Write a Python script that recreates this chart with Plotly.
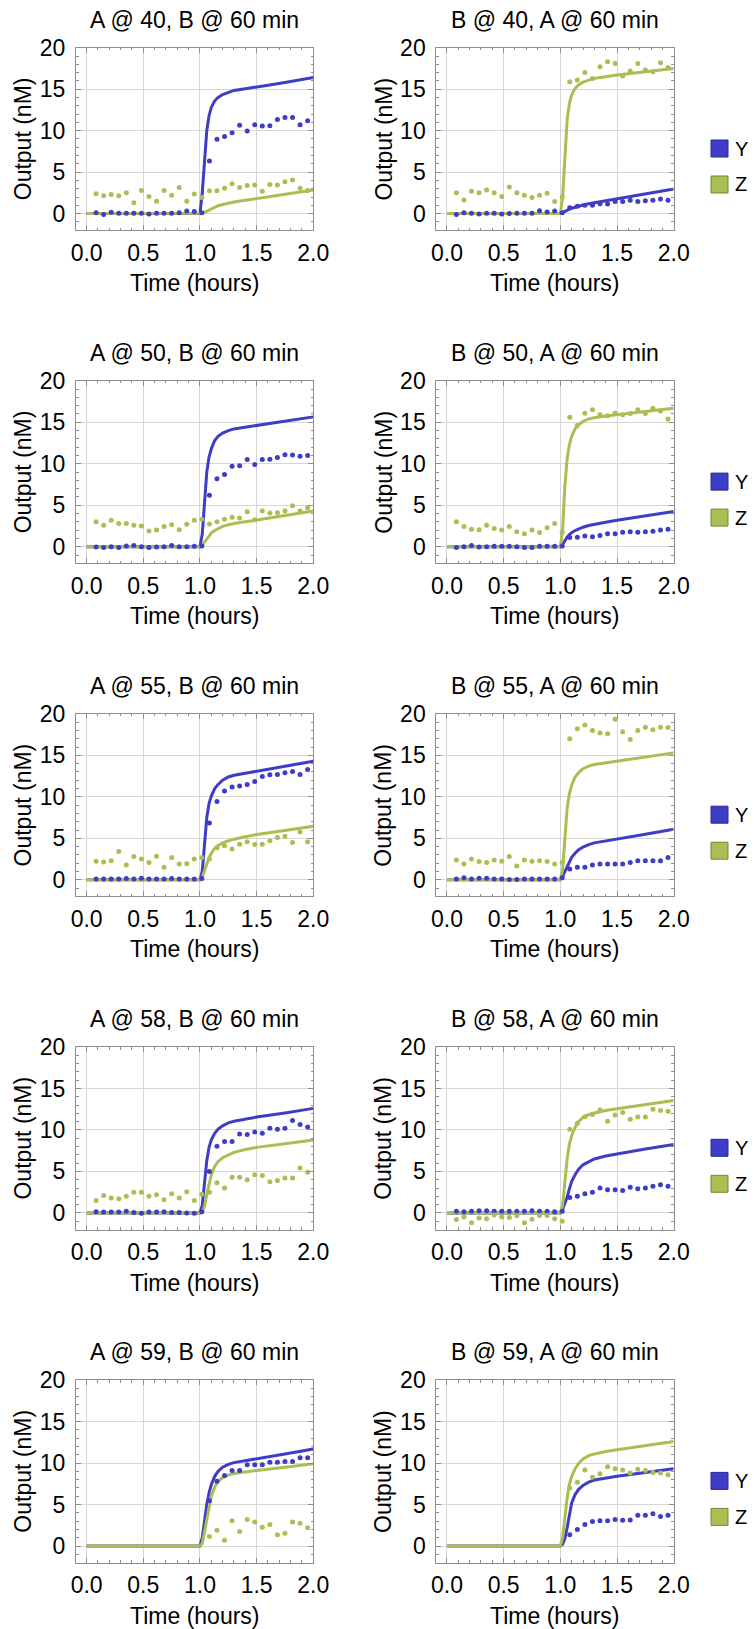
import plotly.graph_objects as go

W, H = 754, 1629
FONT = "Liberation Sans, Arial, sans-serif"
FS = 23
LEG_FS = 20
BLUE = "#3f3cc8"
GREEN = "#a8bf52"
BLUE_EDGE = "#2a2890"
GREEN_EDGE = "#76873a"

# ---------------- data ----------------
TIME_MIN = [5, 9, 13, 17, 21, 25, 29, 33, 37, 41, 45, 49, 53, 57, 61,
            65, 69, 73, 77, 81, 85, 89, 93, 97, 101, 105, 109, 113, 117, 121]
FIT_T = [0.0, 1.0, 1.02, 1.04, 1.06, 1.08, 1.10, 1.13, 1.16, 1.20,
         1.25, 1.30, 1.40, 1.50, 1.75, 2.0]

ROW_LABELS = ["40", "50", "55", "58", "59"]
SERIES = ["Y", "Z"]
X_TICKS = [0, 0.5, 1.0, 1.5, 2.0]
X_TICKTEXT = ["0.0", "0.5", "1.0", "1.5", "2.0"]
Y_TICKS = [0, 5, 10, 15, 20]
Y_TICKTEXT = ["0", "5", "10", "15", "20"]

# A first (left column)
y_A40 = [0.1, -0.1, 0.15, 0.05, 0.05, 0.05, 0.05, -0.05, 0.05, 0.05, 0.05, 0.1, 0.3, 0.25, 0.1,
         6.35, 8.95, 9.3, 9.75, 10.65, 9.95, 10.7, 10.55, 10.6, 11.35, 11.6, 11.6, 10.7, 11.2, 12.0]
z_A40 = [2.4, 2.15, 2.3, 2.15, 2.5, 1.3, 2.8, 2.05, 1.5, 2.8, 2.2, 3.15, 1.5, 2.35, 1.95,
         2.75, 2.75, 3.05, 3.6, 3.15, 3.4, 3.45, 2.7, 3.5, 3.45, 3.85, 4.05, 3.05, 2.8, 3.9]
yfit_A40 = [0, 0, 2.5, 6.5, 10.0, 11.8, 12.8, 13.6, 14.0, 14.35, 14.6, 14.85, 15.05, 15.25, 15.8, 16.4]
zfit_A40 = [0, 0, 0.05, 0.15, 0.3, 0.45, 0.6, 0.8, 0.95, 1.1, 1.25, 1.4, 1.6, 1.8, 2.3, 2.85]

y_A50 = [-0.05, -0.1, 0, -0.1, 0.1, 0.15, 0, -0.1, -0.05, 0, 0.15, 0, 0, 0.05, 0.1,
         6.2, 8.2, 8.7, 9.7, 9.75, 10.5, 9.9, 10.5, 10.55, 10.75, 11.1, 11.05, 10.9, 11.0, 11.35]
z_A50 = [3.0, 2.6, 3.2, 2.8, 2.8, 2.6, 2.5, 1.9, 2.0, 2.45, 2.65, 2.05, 2.7, 3.2, 3.3,
         2.75, 3.0, 3.3, 3.55, 3.45, 4.2, 3.25, 4.3, 4.05, 4.1, 4.3, 4.95, 4.3, 4.7, 4.4]
yfit_A50 = [0, 0, 1.5, 5.8, 9.0, 10.8, 11.8, 12.8, 13.3, 13.7, 14.0, 14.2, 14.4, 14.6, 15.1, 15.65]
zfit_A50 = [0, 0, 0.2, 0.6, 1.0, 1.35, 1.65, 1.95, 2.2, 2.45, 2.65, 2.8, 3.0, 3.2, 3.75, 4.3]

y_A55 = [0.1, 0.1, 0.1, 0.1, 0.15, 0.1, 0.2, 0.1, 0.1, 0.1, 0.15, 0.1, 0.1, 0.1, 0.15,
         6.85, 9.45, 10.7, 11.2, 11.3, 11.5, 11.85, 12.45, 12.65, 12.7, 12.9, 13.05, 12.7, 13.3, 13.1]
z_A55 = [2.25, 2.15, 2.3, 3.4, 1.8, 2.8, 2.5, 2.1, 2.85, 1.5, 2.7, 1.9, 1.95, 2.5, 2.7,
         2.5, 3.85, 4.1, 3.7, 4.3, 4.6, 4.25, 4.3, 4.7, 5.1, 5.25, 4.5, 5.75, 4.6, 5.05]
yfit_A55 = [0, 0, 1.0, 4.8, 7.5, 9.2, 10.1, 11.0, 11.5, 12.0, 12.4, 12.6, 12.85, 13.1, 13.7, 14.3]
zfit_A55 = [0, 0, 0.3, 1.1, 1.9, 2.7, 3.2, 3.8, 4.15, 4.45, 4.7, 4.9, 5.2, 5.45, 5.95, 6.45]

y_A58 = [0.15, 0.1, 0.1, 0.1, 0.2, 0.05, -0.05, 0.1, 0.1, 0.15, 0.05, 0.05, 0, -0.05, 0.15,
         5.0, 8.05, 8.6, 8.6, 9.5, 9.45, 9.75, 9.6, 10.2, 10.1, 10.2, 11.15, 10.65, 10.35, 11.15]
z_A58 = [1.5, 2.1, 1.8, 1.7, 2.0, 2.5, 2.5, 2.0, 2.2, 1.6, 2.3, 1.8, 2.55, 1.5, 2.25,
         2.5, 3.65, 3.0, 4.3, 4.3, 4.0, 4.6, 4.5, 3.75, 3.9, 4.2, 4.2, 5.4, 4.9, 5.1]
yfit_A58 = [0, 0, 0.9, 4.0, 6.3, 7.9, 8.8, 9.6, 10.1, 10.5, 10.85, 11.05, 11.3, 11.55, 12.05, 12.6]
zfit_A58 = [0, 0, 0.1, 0.8, 2.2, 3.6, 4.6, 5.6, 6.2, 6.65, 7.0, 7.3, 7.65, 7.9, 8.35, 8.8]

y_A59 = [None, None, None, None, None, None, None, None, None, None, None, None, None, None, None,
         5.45, 7.8, 8.5, 9.1, 9.1, 9.8, 9.8, 9.8, 10.1, 10.1, 10.2, 10.2, 10.65, 10.65, 11.0]
z_A59 = [None, None, None, None, None, None, None, None, None, None, None, None, None, None, None,
         1.15, 1.9, 0.7, 3.05, 1.75, 3.2, 2.9, 2.25, 2.6, 1.35, 1.55, 2.9, 2.75, 2.2, 2.6]
yfit_A59 = [0, 0, 1.0, 3.3, 5.0, 6.4, 7.4, 8.4, 9.0, 9.5, 9.85, 10.05, 10.3, 10.5, 11.1, 11.7]
zfit_A59 = [0, 0, 0.3, 1.7, 3.4, 4.9, 6.0, 7.1, 7.8, 8.25, 8.55, 8.75, 8.95, 9.1, 9.5, 9.9]

# B first (right column)
y_B40 = [-0.1, 0.1, 0.05, -0.05, 0.05, 0.05, -0.05, 0, 0.05, 0.05, 0.05, 0.35, 0.2, 0.3, 0.1,
         0.7, 0.9, 1.0, 1.0, 1.2, 1.15, 1.45, 1.45, 1.6, 1.45, 1.55, 1.6, 1.75, 1.6, 1.75]
z_B40 = [2.5, 1.65, 2.7, 2.5, 2.85, 2.5, 2.05, 3.2, 2.5, 2.2, 1.95, 2.2, 2.45, 1.45, 2.0,
         15.9, 16.1, 17.0, 16.3, 17.7, 18.3, 18.1, 16.6, 17.2, 18.1, 17.3, 17.1, 18.2, 17.6, 17.2]
yfit_B40 = [0, 0, 0.12, 0.28, 0.42, 0.55, 0.65, 0.78, 0.9, 1.04, 1.18, 1.3, 1.52, 1.75, 2.35, 2.97]
zfit_B40 = [0, 0, 2.0, 7.5, 11.3, 13.3, 14.3, 15.1, 15.5, 15.85, 16.1, 16.3, 16.5, 16.7, 17.1, 17.5]

y_B50 = [-0.1, 0, 0.15, -0.05, 0, 0.05, 0.05, 0.05, 0, -0.1, -0.1, 0.05, 0.05, 0.05, 0.1,
         1.1, 1.15, 1.3, 1.2, 1.35, 1.55, 1.55, 1.75, 1.8, 1.75, 1.8, 1.85, 2.0, 2.1, 2.25]
z_B50 = [3.0, 2.45, 2.1, 2.05, 2.6, 2.2, 2.0, 2.45, 1.8, 1.55, 2.0, 1.7, 2.3, 2.8, 1.75,
         15.6, 14.6, 16.1, 16.5, 15.9, 15.8, 16.1, 15.9, 16.05, 16.5, 16.05, 16.7, 16.35, 15.4, 16.3]
yfit_B50 = [0, 0, 0.3, 0.75, 1.15, 1.45, 1.7, 1.95, 2.15, 2.35, 2.55, 2.7, 2.95, 3.2, 3.7, 4.25]
zfit_B50 = [0, 0, 2.0, 7.3, 10.6, 12.3, 13.3, 14.2, 14.7, 15.1, 15.4, 15.55, 15.75, 15.9, 16.3, 16.7]

y_B55 = [0.1, 0.25, 0.1, 0.2, 0.2, 0.1, 0.1, 0.05, 0.05, 0.1, 0.1, 0.1, 0.1, 0.1, 0.25,
         1.3, 1.5, 1.5, 1.8, 1.9, 1.9, 1.9, 1.9, 2.1, 2.3, 2.3, 2.3, 2.3, 2.7, 2.4]
z_B55 = [2.4, 1.9, 2.5, 2.2, 2.1, 2.4, 2.25, 2.8, 1.65, 2.4, 2.25, 2.3, 2.2, 1.9, 2.1,
         17.0, 18.2, 18.65, 18.0, 17.7, 17.6, 19.35, 17.85, 16.9, 18.0, 18.4, 18.1, 18.4, 18.35, 19.2]
yfit_B55 = [0, 0, 0.4, 1.0, 1.7, 2.25, 2.7, 3.2, 3.6, 3.95, 4.25, 4.45, 4.7, 4.9, 5.5, 6.1]
zfit_B55 = [0, 0, 1.2, 5.6, 8.6, 10.4, 11.4, 12.4, 12.9, 13.4, 13.7, 13.9, 14.1, 14.25, 14.8, 15.3]

y_B58 = [0.2, 0.15, 0.2, 0.25, 0.25, 0.2, 0.2, 0.2, 0.2, 0.2, 0.25, 0.2, 0.2, 0.15, 0.2,
         1.85, 2.0, 2.3, 2.5, 3.0, 2.8, 2.8, 2.7, 3.1, 2.9, 3.0, 3.2, 3.4, 3.2, 3.4]
z_B58 = [-0.8, -0.5, -1.2, -0.6, -0.7, -0.25, -0.5, -0.55, -0.35, -1.2, -0.75, -0.3, -0.3, -0.7, -1.0,
         10.1, 10.8, 11.6, 11.85, 12.4, 11.05, 11.8, 12.1, 11.3, 11.55, 11.55, 12.5, 12.35, 12.25, 12.4]
yfit_B58 = [0, 0, 0.4, 1.1, 1.9, 2.9, 3.8, 4.6, 5.25, 5.8, 6.2, 6.5, 6.85, 7.1, 7.7, 8.25]
zfit_B58 = [0, 0, 0.9, 4.0, 6.5, 8.3, 9.3, 10.3, 11.0, 11.5, 11.85, 12.05, 12.35, 12.55, 13.05, 13.55]

y_B59 = [None, None, None, None, None, None, None, None, None, None, None, None, None, None, None,
         1.35, 2.0, 2.6, 2.95, 3.05, 3.05, 3.2, 3.1, 3.15, 3.7, 3.7, 3.9, 3.55, 3.7, 3.5]
z_B59 = [None, None, None, None, None, None, None, None, None, None, None, None, None, None, None,
         7.0, 7.7, 9.15, 8.3, 8.7, 9.55, 9.3, 9.15, 8.8, 9.25, 9.1, 8.85, 8.8, 8.6, 8.65]
yfit_B59 = [0, 0, 0.2, 0.9, 2.2, 3.9, 5.2, 6.2, 6.8, 7.3, 7.7, 7.95, 8.2, 8.4, 8.85, 9.3]
zfit_B59 = [0, 0, 1.0, 3.6, 5.8, 7.4, 8.4, 9.3, 9.95, 10.5, 10.9, 11.1, 11.4, 11.6, 12.1, 12.6]

PANELS_A = [(y_A40, z_A40, yfit_A40, zfit_A40), (y_A50, z_A50, yfit_A50, zfit_A50),
            (y_A55, z_A55, yfit_A55, zfit_A55), (y_A58, z_A58, yfit_A58, zfit_A58),
            (y_A59, z_A59, yfit_A59, zfit_A59)]
PANELS_B = [(y_B40, z_B40, yfit_B40, zfit_B40), (y_B50, z_B50, yfit_B50, zfit_B50),
            (y_B55, z_B55, yfit_B55, zfit_B55), (y_B58, z_B58, yfit_B58, zfit_B58),
            (y_B59, z_B59, yfit_B59, zfit_B59)]

t_hours = [m / 60 for m in TIME_MIN]

# ---------------- layout geometry (window pixels) ----------------
COL_X = [(76.0, 313.3), (436.3, 673.7)]
ROW_TOP0 = 47.7
ROW_PITCH = 333.1
FRAME_H = 182.5
X_RANGE = [-0.094, 2.0]
Y_RANGE = [-2.0, 20.0]

FRAME_COL = "#8f8f8f"
GRID_COL = "#d6d6d6"
TICK_FONT = dict(family=FONT, size=FS, color="black")

fig = go.Figure()
layout = dict(template="none", width=W, height=H, autosize=False,
              margin=dict(l=0, r=0, t=0, b=0, pad=0),
              paper_bgcolor="white", plot_bgcolor="white", showlegend=False,
              hovermode=False,
              font=dict(family=FONT, size=FS, color="black"))
annotations = []
shapes = []


def px(x):
    return x / W


def py(y):
    return 1 - y / H


idx = 0
for r in range(5):
    top = ROW_TOP0 + r * ROW_PITCH
    bot = top + FRAME_H
    for c in range(2):
        idx += 1
        xa = "x" if idx == 1 else f"x{idx}"
        ya = "y" if idx == 1 else f"y{idx}"
        xkey = "xaxis" if idx == 1 else f"xaxis{idx}"
        ykey = "yaxis" if idx == 1 else f"yaxis{idx}"
        x0, x1 = COL_X[c]
        ydat, zdat, yfit, zfit = (PANELS_A if c == 0 else PANELS_B)[r]

        fig.add_trace(go.Scatter(x=FIT_T, y=yfit, mode="lines", xaxis=xa, yaxis=ya,
                                 line=dict(color=BLUE, width=3), name="Y"))
        fig.add_trace(go.Scatter(x=FIT_T, y=zfit, mode="lines", xaxis=xa, yaxis=ya,
                                 line=dict(color=GREEN, width=3), name="Z"))
        fig.add_trace(go.Scatter(x=t_hours, y=ydat, mode="markers", xaxis=xa, yaxis=ya,
                                 marker=dict(color=BLUE, size=5, line=dict(width=0)),
                                 cliponaxis=False, name="Y data"))
        fig.add_trace(go.Scatter(x=t_hours, y=zdat, mode="markers", xaxis=xa, yaxis=ya,
                                 marker=dict(color=GREEN, size=5, line=dict(width=0)),
                                 cliponaxis=False, name="Z data"))

        common = dict(ticks="inside", ticklen=5, tickcolor=FRAME_COL, tickwidth=1,
                      showline=True, linecolor=FRAME_COL, linewidth=1, mirror="ticks",
                      showgrid=True, gridcolor=GRID_COL, gridwidth=1, zeroline=False,
                      tickfont=TICK_FONT, automargin=False, fixedrange=True)
        layout[xkey] = dict(domain=[px(x0), px(x1)], anchor=ya, range=X_RANGE,
                            tickvals=X_TICKS, ticktext=X_TICKTEXT, ticklabelstandoff=2,
                            minor=dict(ticks="inside", ticklen=2.5, tickcolor=FRAME_COL,
                                       dtick=0.1, tick0=0, showgrid=False), **common)
        layout[ykey] = dict(domain=[py(bot), py(top)], anchor=xa, range=Y_RANGE,
                            tickvals=Y_TICKS, ticktext=Y_TICKTEXT, ticklabelstandoff=5,
                            minor=dict(ticks="inside", ticklen=2.5, tickcolor=FRAME_COL,
                                       dtick=1, tick0=0, showgrid=False), **common)

        cx = (x0 + x1) / 2
        cy = (top + bot) / 2
        first, second = ("A", "B") if c == 0 else ("B", "A")
        title = f"{first} @ {ROW_LABELS[r]}, {second} @ 60 min"
        annotations.append(dict(text=title, x=px(cx), y=py(top - 27.7), xref="paper", yref="paper",
                                xanchor="center", yanchor="middle", showarrow=False,
                                font=dict(family=FONT, size=FS, color="black")))
        annotations.append(dict(text="Time (hours)", x=px(cx), y=py(bot + 53), xref="paper",
                                yref="paper", xanchor="center", yanchor="middle", showarrow=False,
                                font=dict(family=FONT, size=FS, color="black")))
        annotations.append(dict(text="Output (nM)", x=px(x0 - 52.7), y=py(cy), xref="paper",
                                yref="paper", xanchor="center", yanchor="middle", showarrow=False,
                                textangle=-90, font=dict(family=FONT, size=FS, color="black")))

    # legend for this row
    for j, (lab, fill, edge) in enumerate(zip(SERIES, [BLUE, GREEN], [BLUE_EDGE, GREEN_EDGE])):
        sy0 = top + 92.3 + j * 36
        shapes.append(dict(type="rect", xref="paper", yref="paper",
                           x0=px(711), x1=px(728), y0=py(sy0 + 17), y1=py(sy0),
                           fillcolor=fill, line=dict(color=edge, width=1)))
        annotations.append(dict(text=lab, x=px(733), y=py(sy0 + 8.5), xref="paper", yref="paper",
                                xanchor="left", yanchor="middle", showarrow=False,
                                font=dict(family=FONT, size=LEG_FS, color="black")))

layout["annotations"] = annotations
layout["shapes"] = shapes
fig.update_layout(**layout)
# remove the browser's default 8px body margin so the figure fills the window exactly
fig.write_html("out.html", config={"displayModeBar": False, "staticPlot": True},
               post_script="document.body.style.margin='0';document.body.style.overflow='hidden';")
